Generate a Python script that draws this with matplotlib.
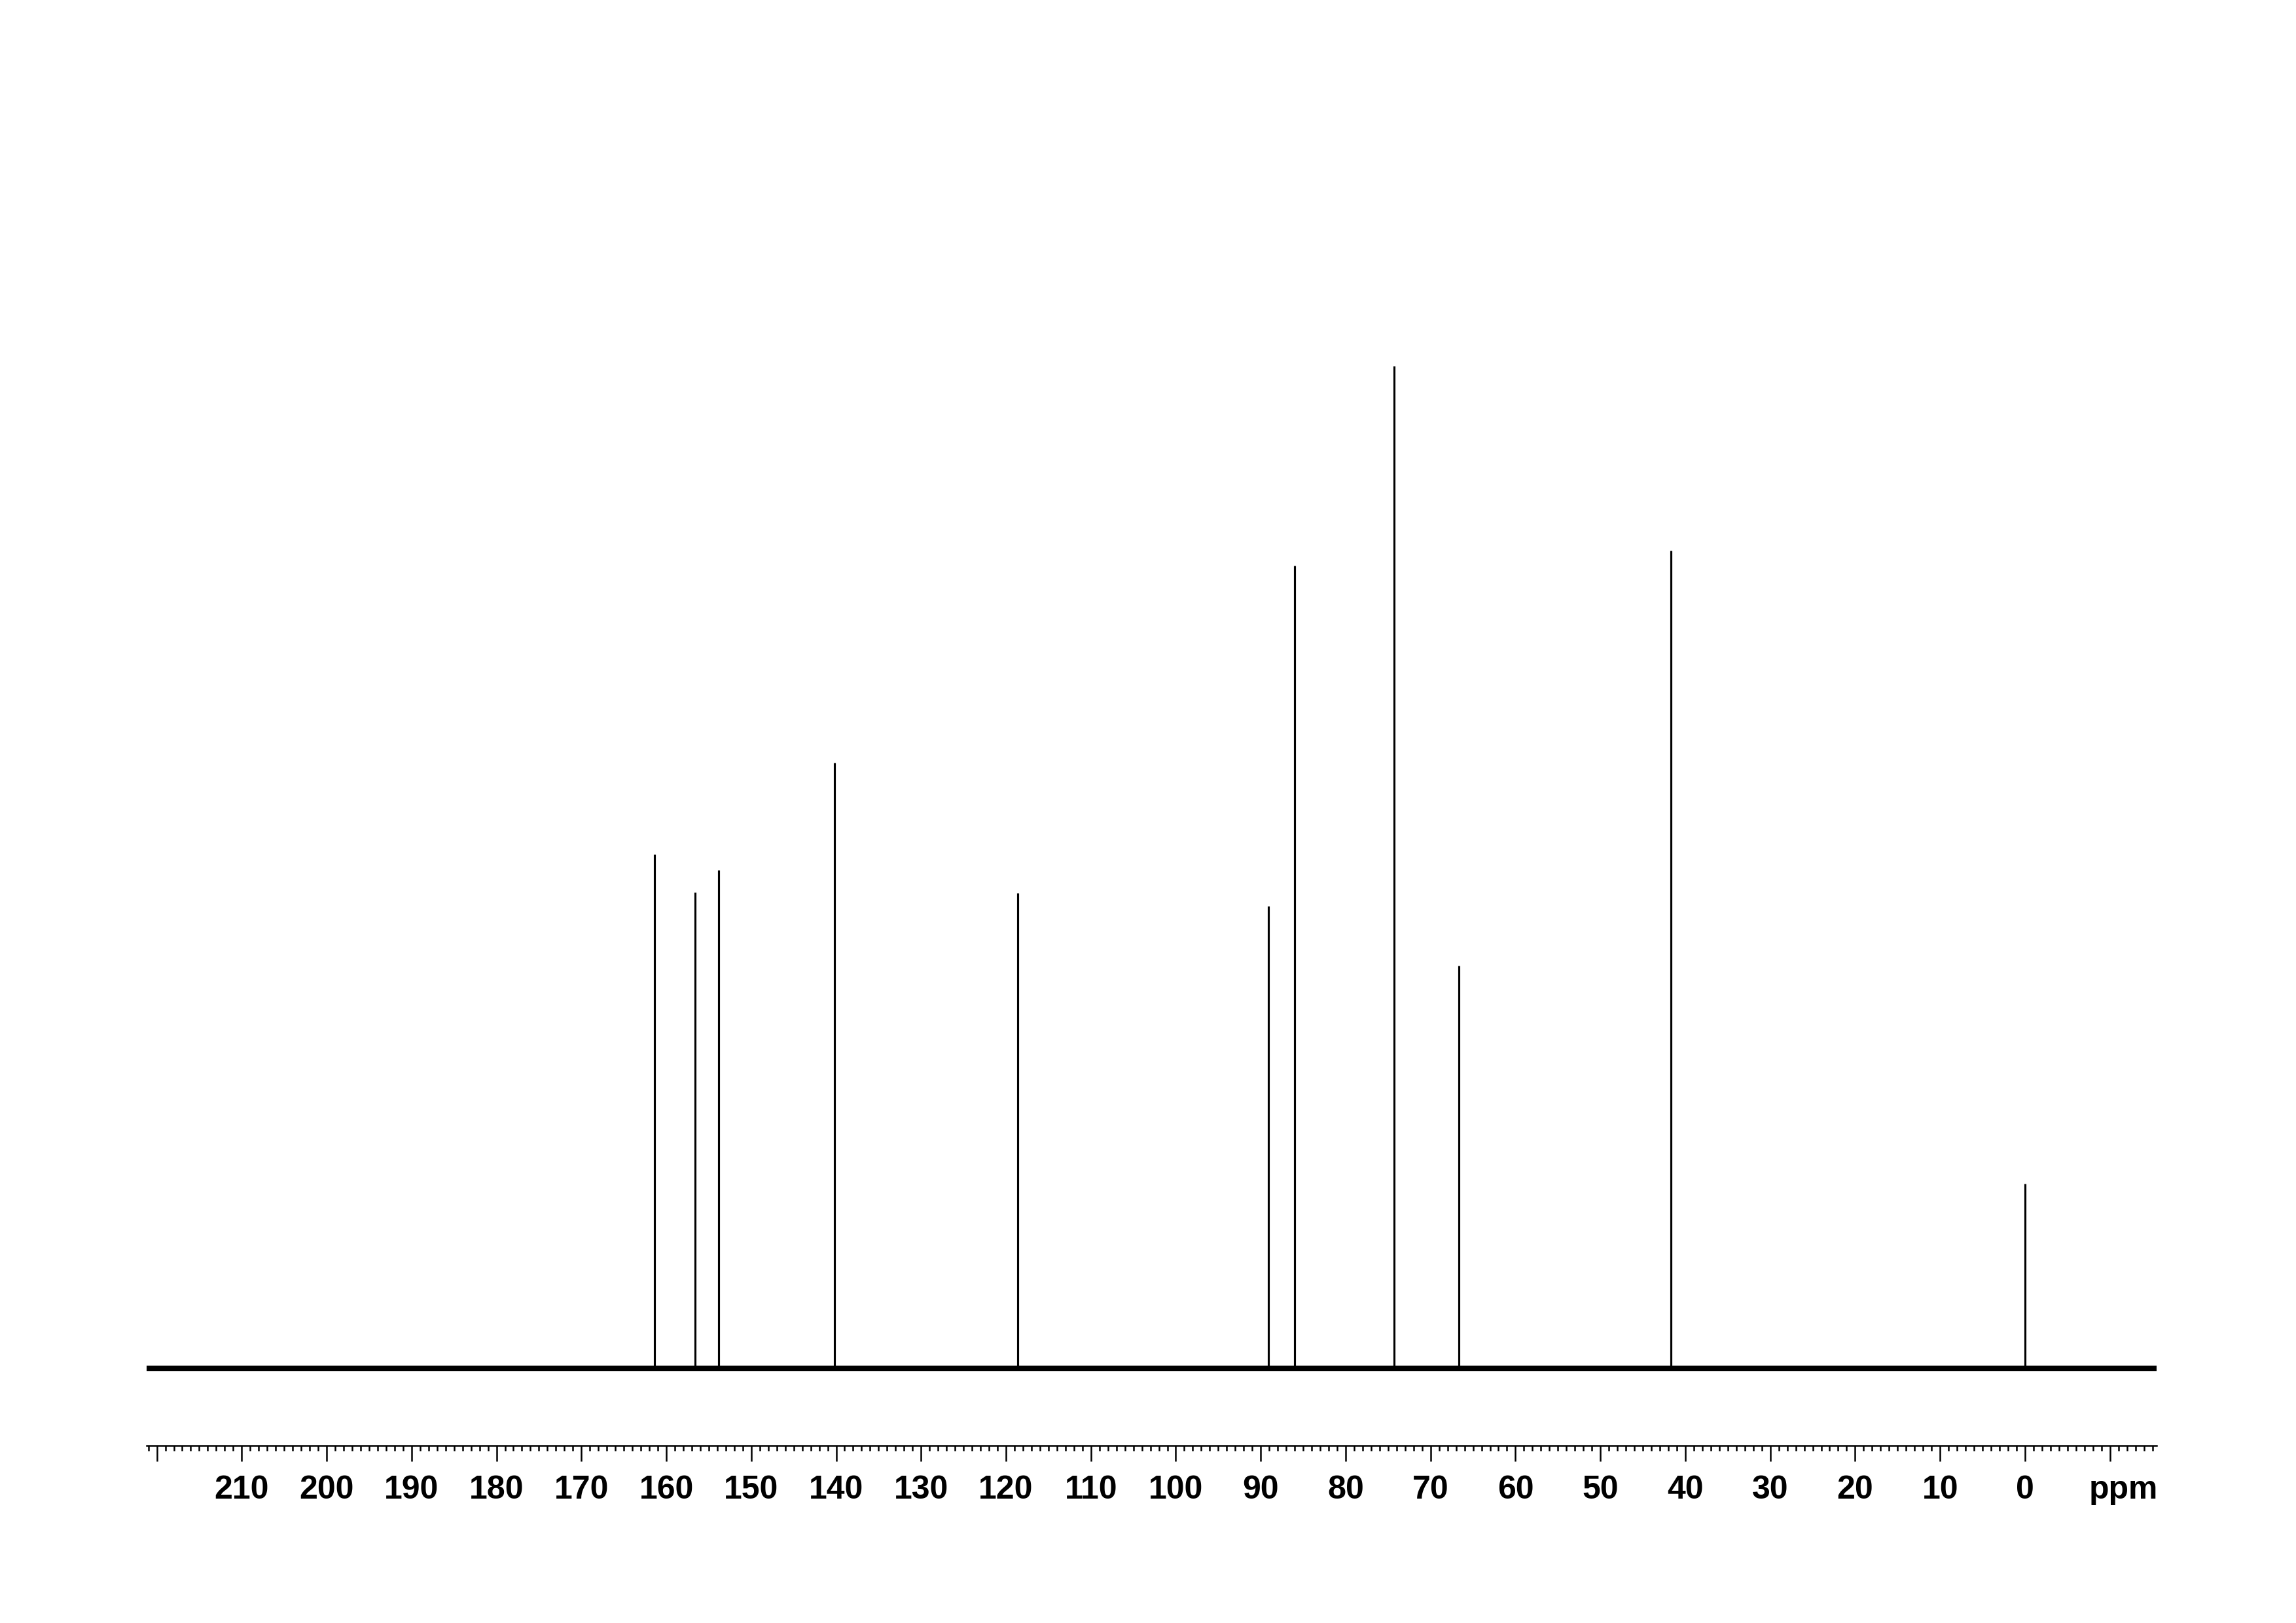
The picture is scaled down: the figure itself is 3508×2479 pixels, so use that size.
import matplotlib
matplotlib.use('Agg')
import matplotlib.pyplot as plt
from matplotlib.ticker import MultipleLocator, FixedLocator

plt.rcParams['font.family'] = ['Liberation Sans', 'DejaVu Sans']

# 13C spectrum: peak shifts (ppm) and relative heights (tallest = 100)
peak_ppm = [161.4, 156.6, 153.8, 140.2, 118.6, 89.1, 86.0, 74.3, 66.7, 41.7, 0.0]
peak_height = [51.3, 47.5, 49.7, 60.4, 47.4, 46.1, 80.1, 100.0, 40.2, 81.6, 18.4]

# recorded window and axis labels
ppm_window = [221.2, -15.5]
major_ticks = list(range(220, -11, -10))
tick_labels = ['' if t in (220, -10) else str(t) for t in major_ticks]

fig = plt.figure(figsize=(3508 / 300, 2479 / 300), dpi=300)
ax = fig.add_axes([224 / 3508, 1 - 2208 / 2479, (3295 - 224) / 3508, (2208 - 559) / 2479])

# baseline (noise band) and peaks
ax.plot(ppm_window, [0, 0], color='k', lw=2.0, solid_capstyle='butt')
ax.vlines(peak_ppm, 0, peak_height, color='k', lw=0.75)

ax.set_xlim(ppm_window)
ax.set_ylim(-7.71, 100)

for s in ('left', 'top', 'right'):
    ax.spines[s].set_visible(False)
ax.spines['bottom'].set_linewidth(0.6)
ax.set_yticks([])

ax.xaxis.set_major_locator(FixedLocator(major_ticks))
ax.set_xticklabels(tick_labels, fontsize=12, fontweight='bold')
ax.xaxis.set_minor_locator(MultipleLocator(1))
ax.tick_params(axis='x', which='major', direction='out', length=5.8, width=0.6, pad=5)
ax.tick_params(axis='x', which='minor', direction='out', length=1.8, width=0.6)

ax.annotate('ppm', xy=(-11.6, 0), xycoords=('data', 'axes fraction'),
            xytext=(0, -(5.8 + 5)), textcoords='offset points',
            ha='center', va='top', fontsize=12, fontweight='bold')

fig.savefig('out.png', dpi=300)
